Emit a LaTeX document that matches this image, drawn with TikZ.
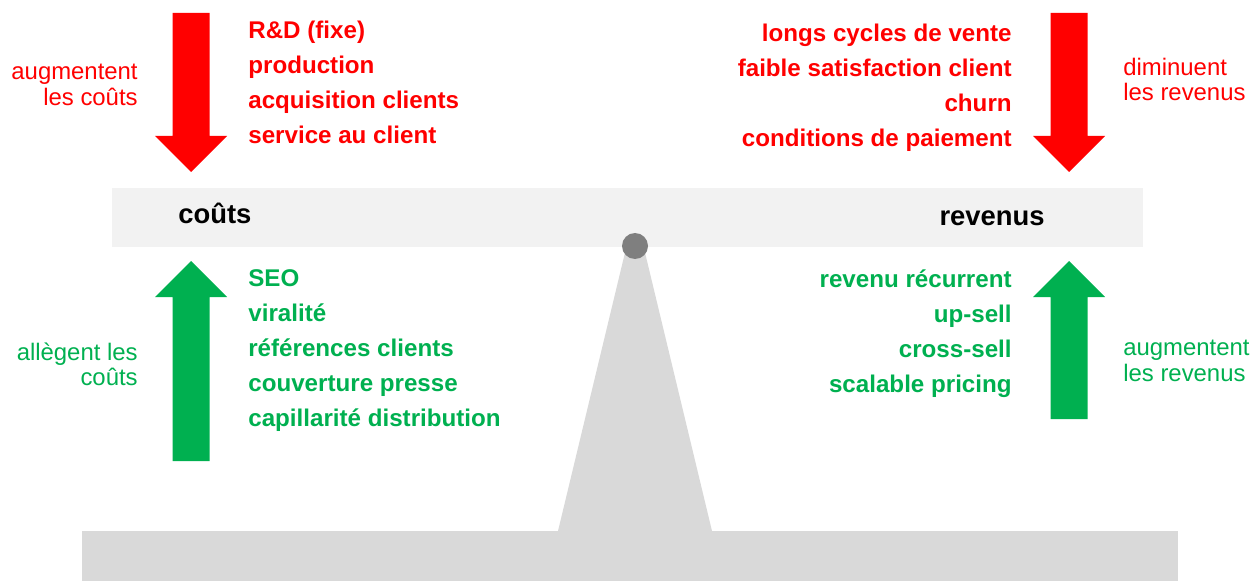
\documentclass[tikz,border=0pt]{standalone}
\usepackage{fontspec}
\setmainfont{Liberation Sans}
\definecolor{costred}{HTML}{FF0000}
\definecolor{gaingreen}{HTML}{00B050}
\definecolor{beamgrey}{HTML}{F2F2F2}
\definecolor{standgrey}{HTML}{D9D9D9}
\definecolor{pivotgrey}{HTML}{7F7F7F}
% block arrow: colour, centre x, tail y, head base y, tip y
\newcommand{\blockarrow}[5]{\fill[#1] ({#2-18.5},#3) -- ({#2+18.5},#3) -- ({#2+18.5},#4) -- ({#2+36},#4) -- (#2,#5) -- ({#2-36},#4) -- ({#2-18.5},#4) -- cycle;}
\begin{document}
\begin{tikzpicture}[x=0.02cm,y=-0.02cm,
  item/.style={inner sep=0pt,font=\bfseries\fontsize{13.75}{16}\selectfont},
  note/.style={inner sep=0pt,font=\fontsize{13.6}{16}\selectfont},
  side/.style={inner sep=0pt,font=\bfseries\fontsize{15.6}{18}\selectfont}]
\useasboundingbox (0,0) rectangle (1252,581);
% stand and beam
\fill[standgrey] (82,531) rectangle (1178,581);
\fill[standgrey] (558,531) -- (712,531) -- (635,211) -- cycle;
\fill[beamgrey] (112,188) rectangle (1143,247);
\fill[pivotgrey] (635,246) circle (13);
\node[side,anchor=base west] (couts) at (178,224) {coûts};
\node[side,anchor=base east] (revenus) at (1045,226) {revenus};
% arrows
\blockarrow{costred}{191}{13}{136}{172}
\blockarrow{costred}{1069}{13}{136}{172}
\blockarrow{gaingreen}{191}{461}{297}{261}
\blockarrow{gaingreen}{1069}{419}{297}{261}
% lists
\foreach \t [count=\i] in {R\&D (fixe),production,acquisition clients,service au client}
  \node[item,text=costred,anchor=base west] (cu\i) at (248,{3.5+35*\i}) {\t};
\foreach \t [count=\i] in {longs cycles de vente,faible satisfaction client,churn,conditions de paiement}
  \node[item,text=costred,anchor=base east] (rd\i) at (1012,{7+35*\i}) {\t};
\foreach \t [count=\i] in {SEO,viralité,références clients,couverture presse,capillarité distribution}
  \node[item,text=gaingreen,anchor=base west] (cd\i) at (248,{251+35*\i}) {\t};
\foreach \t [count=\i] in {revenu récurrent,up-sell,cross-sell,scalable pricing}
  \node[item,text=gaingreen,anchor=base east] (ru\i) at (1012,{252+35*\i}) {\t};
% side notes
\node[note,text=costred,anchor=base east] (cu) at (138,80) {augmentent};
\node[note,text=costred,anchor=base east] (cu') at (138,106) {les coûts};
\node[note,text=costred,anchor=base west] (rd) at (1123,76) {diminuent};
\node[note,text=costred,anchor=base west] (rd') at (1123,101) {les revenus};
\node[note,text=gaingreen,anchor=base east] (cd) at (138,360) {allègent les};
\node[note,text=gaingreen,anchor=base east] (cd') at (138,385) {coûts};
\node[note,text=gaingreen,anchor=base west] (ru) at (1123,355) {augmentent};
\node[note,text=gaingreen,anchor=base west] (ru') at (1123,381) {les revenus};
\end{tikzpicture}
\end{document}
